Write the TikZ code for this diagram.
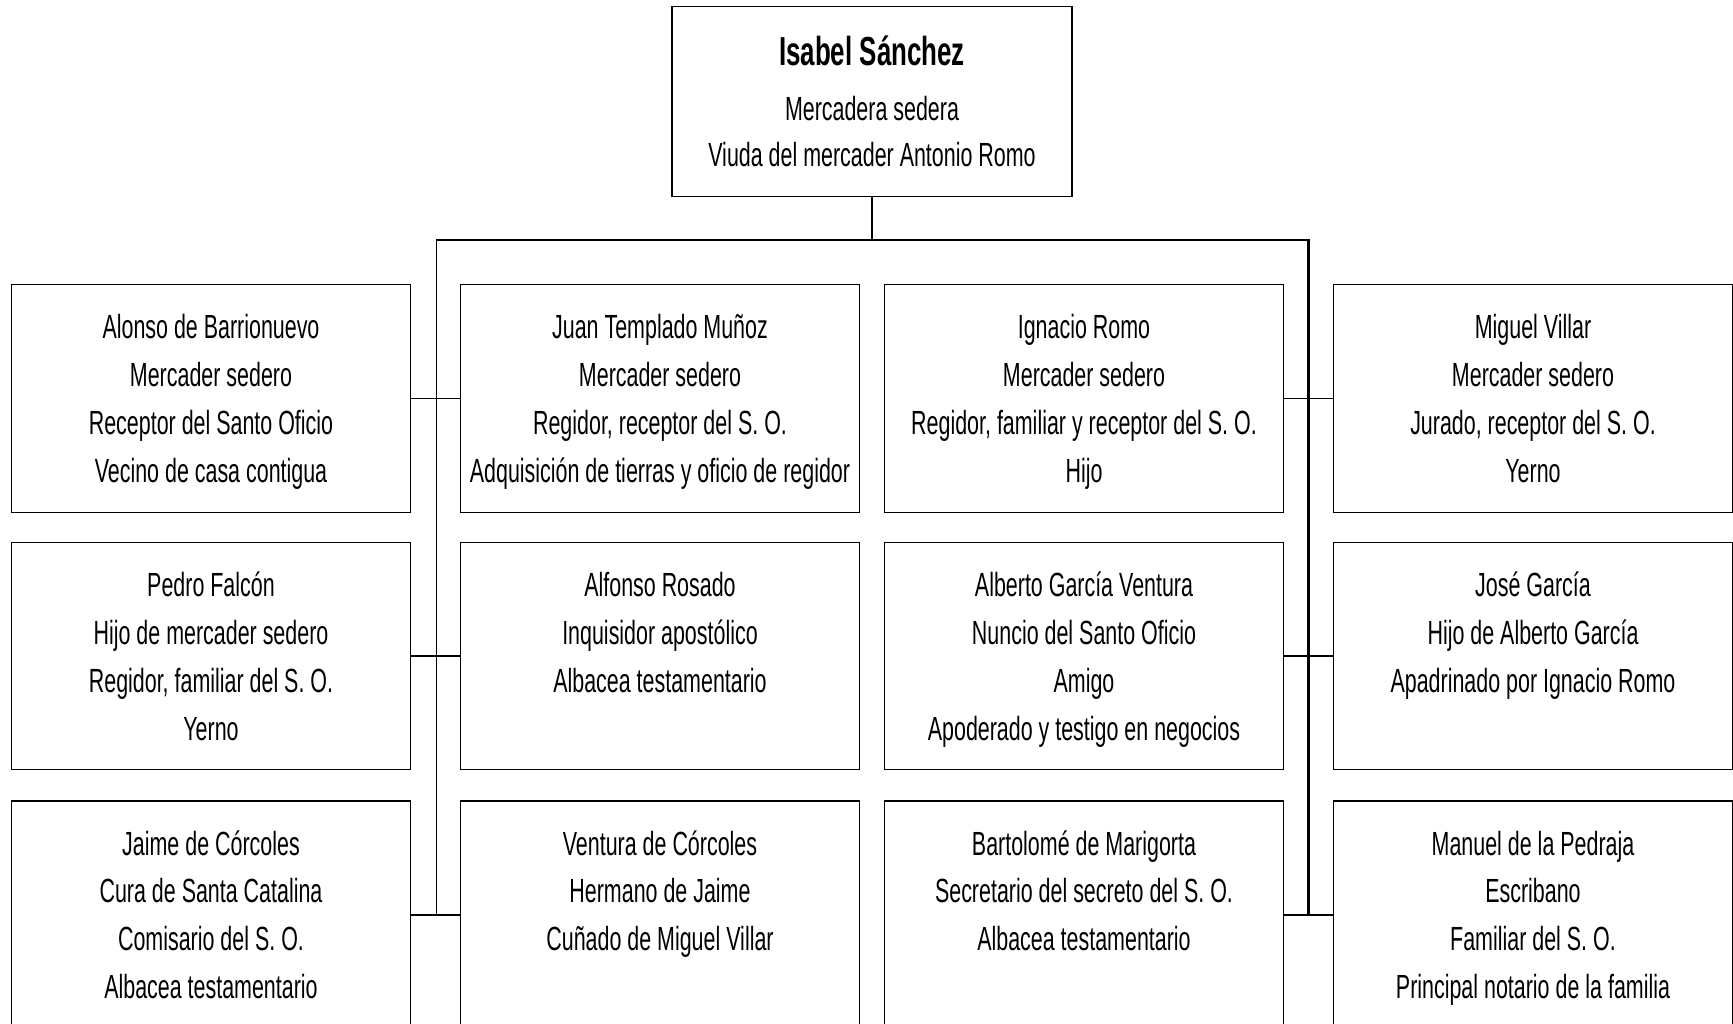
\documentclass[tikz,border=0pt]{standalone}
\usepackage{fontspec}
\setmainfont{Liberation Sans}[FakeStretch=0.64]
\newcommand{\pcell}[3]{\parbox[c][#1][t]{#2}{\centering\fontsize{33.5pt}{47.9pt}\selectfont\rule{0pt}{54pt}#3}}
\tikzset{
  person/.style={draw, line width=1.5pt, inner sep=0pt, outer sep=0pt, anchor=center},
  thinline/.style={line width=1.4pt},
  thickline/.style={line width=2.7pt}
}
\begin{document}
\begin{tikzpicture}[x=1pt,y=-1pt]
\useasboundingbox (0,0) rectangle (1733,1024);
% top
\node[person] (top) at (872,101.6) {\parbox[c][190pt][t]{400pt}{\centering\fontsize{33.5pt}{46.5pt}\selectfont\rule{0pt}{58.5pt}{\bfseries\fontsize{40.5pt}{43pt}\selectfont Isabel Sánchez}\\[8.5pt]Mercadera sedera\\Viuda del mercader Antonio Romo}};
% row 1
\node[person] (a1) at (211,398.6) {\pcell{228pt}{399pt}{Alonso de Barrionuevo\\Mercader sedero\\Receptor del Santo Oficio\\Vecino de casa contigua}};
\node[person] (b1) at (660,398.6) {\pcell{228pt}{399pt}{Juan Templado Muñoz\\Mercader sedero\\Regidor, receptor del S. O.\\Adquisición de tierras y oficio de regidor}};
\node[person] (c1) at (1084,398.6) {\pcell{228pt}{399pt}{Ignacio Romo\\Mercader sedero\\Regidor, familiar y receptor del S. O.\\Hijo}};
\node[person] (d1) at (1533,398.6) {\pcell{228pt}{399pt}{Miguel Villar\\Mercader sedero\\Jurado, receptor del S. O.\\Yerno}};
% row 2
\node[person] (a2) at (211,656) {\pcell{227pt}{399pt}{Pedro Falcón\\Hijo de mercader sedero\\Regidor, familiar del S. O.\\Yerno}};
\node[person] (b2) at (660,656) {\pcell{227pt}{399pt}{Alfonso Rosado\\Inquisidor apostólico\\Albacea testamentario}};
\node[person] (c2) at (1084,656) {\pcell{227pt}{399pt}{Alberto García Ventura\\Nuncio del Santo Oficio\\Amigo\\Apoderado y testigo en negocios}};
\node[person] (d2) at (1533,656) {\pcell{227pt}{399pt}{José García\\Hijo de Alberto García\\Apadrinado por Ignacio Romo}};
% row 3
\node[person] (a3) at (211,915) {\pcell{228pt}{399pt}{Jaime de Córcoles\\Cura de Santa Catalina\\Comisario del S. O.\\Albacea testamentario}};
\node[person] (b3) at (660,915) {\pcell{228pt}{399pt}{Ventura de Córcoles\\Hermano de Jaime\\Cuñado de Miguel Villar}};
\node[person] (c3) at (1084,915) {\pcell{228pt}{399pt}{Bartolomé de Marigorta\\Secretario del secreto del S. O.\\Albacea testamentario}};
\node[person] (d3) at (1533,915) {\pcell{228pt}{399pt}{Manuel de la Pedraja\\Escribano\\Familiar del S. O.\\Principal notario de la familia}};
% bus
\coordinate (busL) at (436.5,240);
\coordinate (busR) at (1308.5,240);
\coordinate (stem) at (top.south |- busL);
\draw[thinline] (top.south) -- (stem);
\draw[thinline] (stem) -- (busL) -- (busL |- a3.east);
\draw[thickline] (stem) -- (busR) -- (busR |- d3.west);
% row connectors
\draw[thinline] (a1.east) -- (b1.west);
\draw[thinline] (a2.east) -- (b2.west);
\draw[thinline] (a3.east) -- (b3.west);
\draw[thinline] (c1.east) -- (d1.west);
\draw[thinline] (c2.east) -- (d2.west);
\draw[thinline] (c3.east) -- (d3.west);
\end{tikzpicture}
\end{document}
